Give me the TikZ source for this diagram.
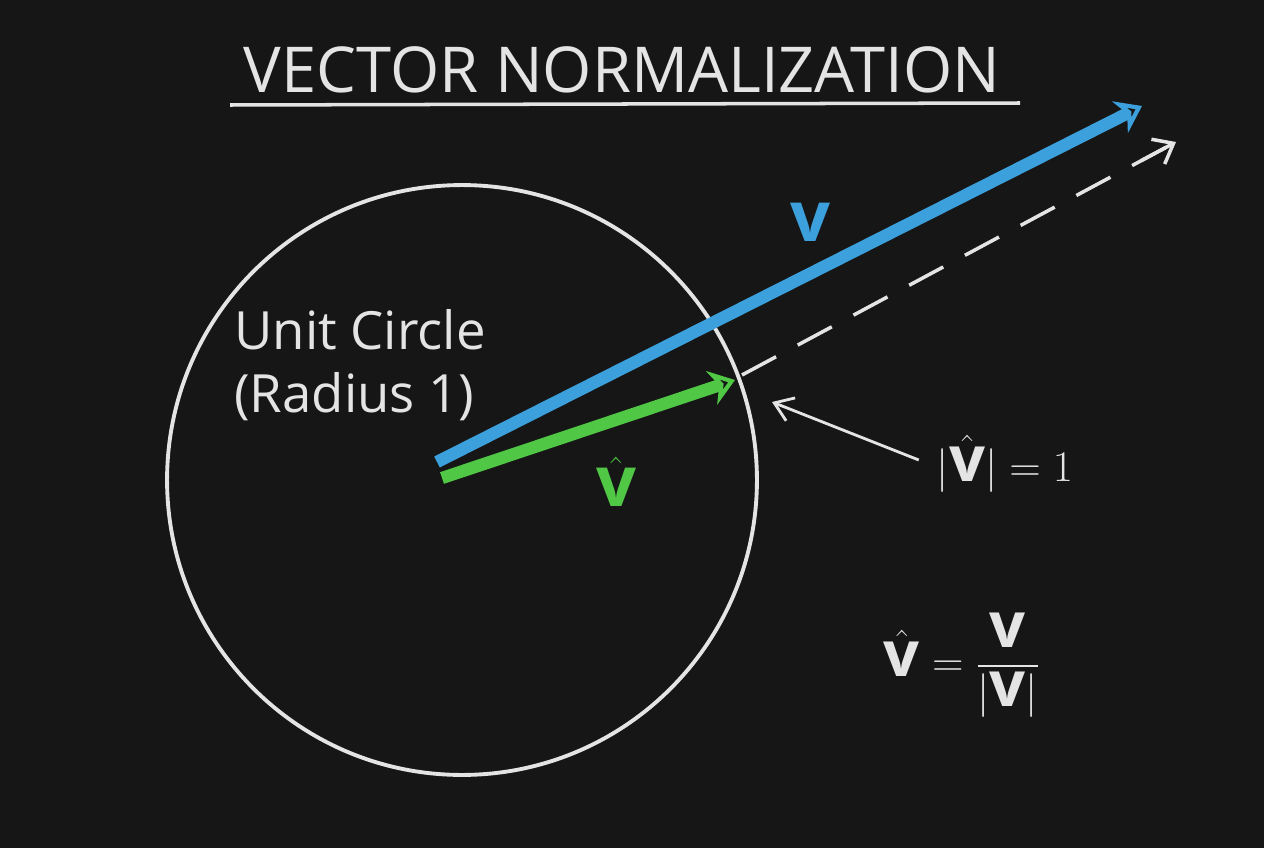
\documentclass[tikz,border=0pt]{standalone}
\usepackage{amsmath}
\usepackage{fontspec}
\setmainfont{Open Sans}
\usetikzlibrary{arrows.meta, calc}
\definecolor{board}{RGB}{22,22,22}
\definecolor{chalk}{RGB}{228,228,228}
\definecolor{chalkblue}{RGB}{60,160,220}
\definecolor{chalkgreen}{RGB}{80,200,70}
\begin{document}
\begin{tikzpicture}[x=0.02cm,y=-0.02cm,
		chalktext/.style={text=chalk,font=\fontsize{30}{36}\selectfont,align=left},
		bigvec/.style={line width=7pt,-{Stealth[length=14pt,width=20pt,open]}},
		pointer/.style={chalk,line width=1.6pt,-{Straight Barb[length=10pt,width=14pt]}}
		]
		\fill[board] (0,0) rectangle (1264,848);
		
		\node[chalktext, font=\fontsize{36}{40}\selectfont] (Title) at (622,70){VECTOR NORMALIZATION};
		\draw[chalk, line width=2pt] (230,105) -- (1020,103);
		
		\node[circle, draw=chalk, line width=2.2pt, inner sep=0pt, minimum size=11.8cm] (C) at (462,480){};
		\node[chalktext] (CL) at (360,365){Unit Circle\\(Radius 1)};
		
		\coordinate (O) at (437,462);
		\coordinate (G0) at (442,478);
		\coordinate (VT) at (1142,106);
		\coordinate (UT) at (735,380);
		\coordinate (D0) at (742,375);
		\coordinate (DT) at (1176,142);
		
		\draw[chalk, line width=2pt, dash pattern=on 22pt off 14pt] (D0) -- (DT);
		\draw[chalk, line width=2pt, -{Straight Barb[length=10pt,width=16pt]}] ($(D0)!0.92!(DT)$) -- (DT);
		\draw[bigvec, chalkblue, fill=chalkblue] (O) -- (VT);
		\draw[bigvec, chalkgreen, fill=chalkgreen] (G0) -- (UT);
		
		\node[text=chalkblue, font=\fontsize{40}{44}\selectfont\bfseries] (VL) at (810,222){v};
		\node[text=chalkgreen, font=\fontsize{40}{44}\selectfont\bfseries] (UL) at (616,482){$\hat{\mathbf{v}}$};
		
		\node[chalktext, font=\fontsize{36}{40}\selectfont] (Norm) at (1005,464){$|\hat{\mathbf{v}}|=1$};
		\draw[pointer] ($(Norm.west)+(-12,-4)$) -- (772,402);
		
		\node[chalktext, font=\fontsize{36}{40}\selectfont] (Formula) at (962,665){$\hat{\mathbf{v}}=\dfrac{\mathbf{v}}{|\mathbf{v}|}$};
	\end{tikzpicture}
\end{document}
